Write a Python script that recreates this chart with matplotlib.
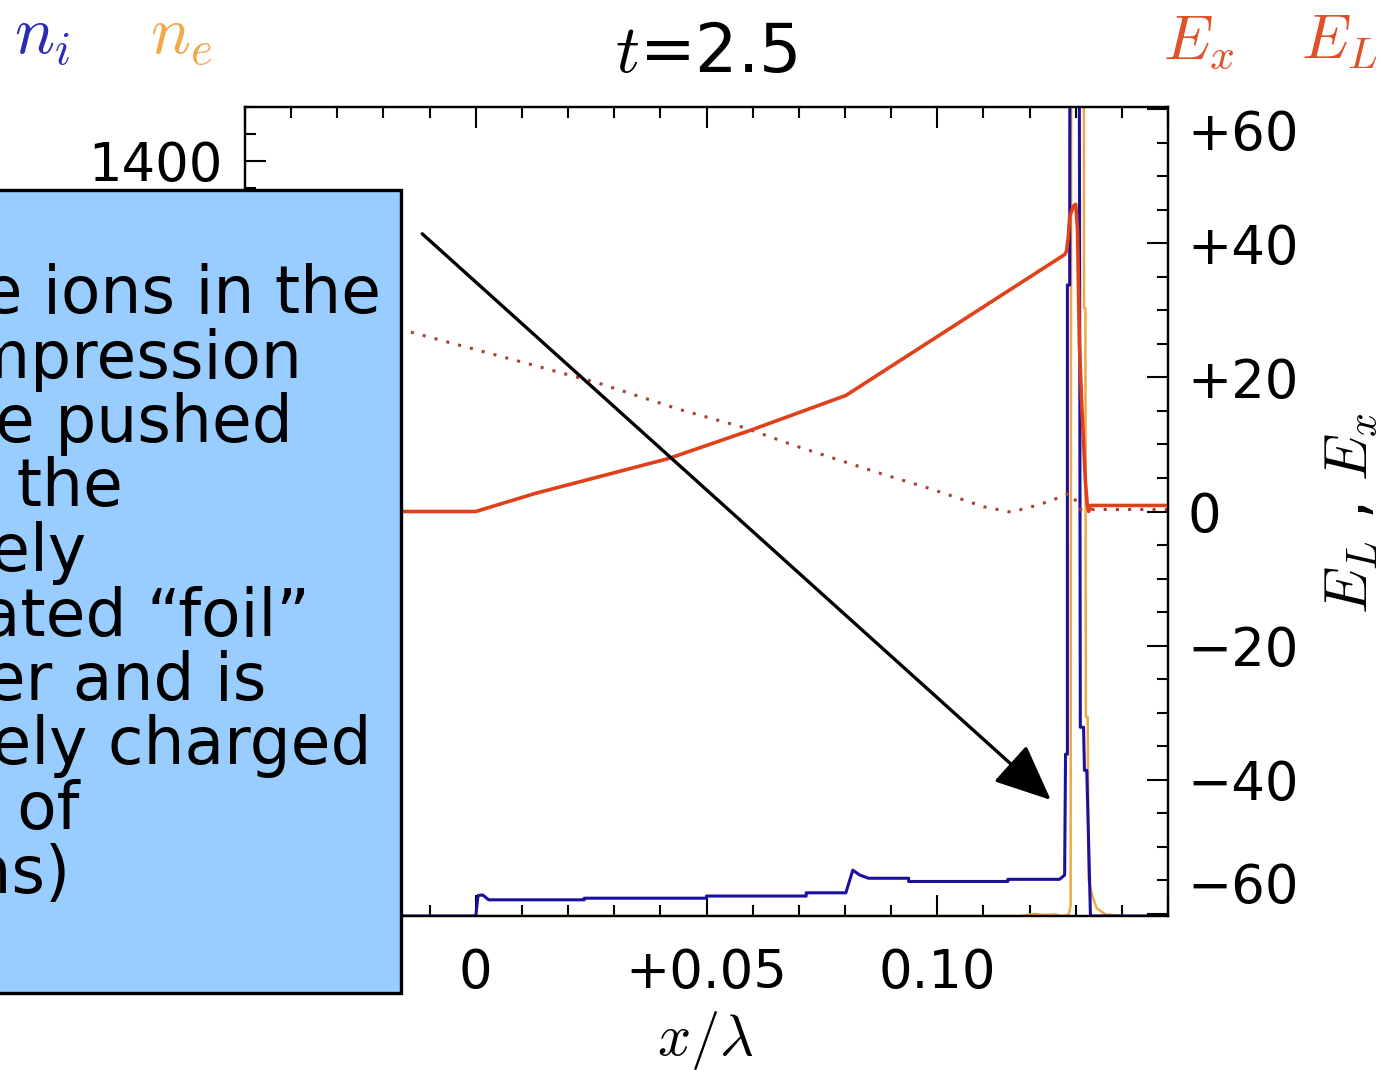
import matplotlib.pyplot as plt
from matplotlib.patches import Rectangle
from matplotlib.ticker import MultipleLocator

plt.rcParams["mathtext.fontset"] = "cm"
plt.rcParams["font.family"] = ["DejaVu Sans"]

# ion density n_i (left axis)
x_ni = [-0.05, 0.0, 0.0005, 0.0015, 0.0028, 0.0235, 0.0235, 0.0500, 0.0500, 0.0716, 0.0716,
        0.0802, 0.0817, 0.0832, 0.0851, 0.0938, 0.0938, 0.1153, 0.1153, 0.1265, 0.1276,
        0.1278, 0.1282, 0.1282, 0.1287, 0.1288, 0.1306, 0.1310, 0.1317, 0.1319, 0.1324,
        0.1332, 0.15]
n_i = [0, 0, 38, 39, 30, 30, 33, 33, 37, 37, 43,
       43, 85, 76, 70, 70, 64, 64, 68, 68, 76,
       300, 300, 1170, 1170, 2600, 2600, 350, 350, 270, 270,
       0, 0]

# electron density n_e (left axis)
x_ne = [-0.05, 0.118, 0.121, 0.123, 0.1255, 0.127, 0.1285, 0.1289, 0.1291, 0.1317, 0.1318,
        0.1321, 0.1322, 0.1326, 0.1328, 0.1335, 0.1345, 0.1364, 0.14, 0.15]
n_e = [0, 0, 4, 2, 3, 0, 3, 20, 2600, 2600, 1127,
       1127, 369, 369, 67, 40, 15, 3, 0, 0]

# longitudinal field E_x (right axis)
x_ex = [-0.05, 0.0, 0.0129, 0.0418, 0.0591, 0.0802, 0.1188, 0.1276, 0.1280, 0.1284, 0.1287,
        0.1295, 0.1300, 0.1304, 0.1308, 0.1313, 0.1317, 0.1321, 0.1325, 0.1328, 0.1332, 0.15]
e_x = [0, 0, 2.7, 7.9, 12.0, 17.3, 34.4, 38.3, 38.8, 40.9, 44.0,
       45.5, 45.8, 42.0, 25.0, 16.0, 10.5, 4.5, 1.0, 0.0, 0.9, 0.9]

# laser field E_L (right axis, dotted)
x_el = [-0.05, -0.0160, 0.0099, 0.0263, 0.0442, 0.0582, 0.0692, 0.0871, 0.0985, 0.1101,
        0.1160, 0.1220, 0.1265, 0.1285, 0.1295, 0.1306, 0.15]
e_l = [33.0, 27.1, 22.3, 19.2, 15.2, 12.5, 9.8, 5.8, 3.4, 0.7,
       -0.1, 1.0, 2.1, 2.7, 2.5, 0.3, 0.3]

x_ticks = [-0.05, 0.0, 0.05, 0.10, 0.15]
x_ticklabels = ["", "0", "+0.05", "0.10", ""]
n_ticks = [0, 200, 400, 600, 800, 1000, 1200, 1400]
e_ticks = [-60, -40, -20, 0, 20, 40, 60]
e_ticklabels = ["\u221260", "\u221240", "\u221220", "0", "+20", "+40", "+60"]

box_lines = ["The ions in the", "compression", "are pushed", "by the", "completely",
             "separated \u201cfoil\u201d", "layer and is", "positively charged",
             "(made of", "ions)"]
box_line_ends = [381, 302, 293, 123, 86, 310, 266, 371, 79, 71]

W, H = 1381, 1070
fig = plt.figure(figsize=(W / 100, H / 100), dpi=100)
ax = fig.add_axes([245 / W, 1 - 916 / H, (1168 - 245) / W, (916 - 107) / H])
ax2 = ax.twinx()

ax.plot(x_ne, n_e, color="#f0a848", lw=1.8, zorder=2)
ax.plot(x_ni, n_i, color="#1c109e", lw=2.2, zorder=3)
ax2.plot(x_el, e_l, color="#a84030", lw=2.2, ls=(0, (1, 3)))
ax2.plot(x_ex, e_x, color="#e0401a", lw=2.6)

ax.set_xlim(-0.05, 0.15)
ax.set_ylim(0, 1500)
ax2.set_ylim(-60.3, 60.3)

ax.set_xticks(x_ticks)
ax.set_xticklabels(x_ticklabels)
ax.xaxis.set_minor_locator(MultipleLocator(0.01))
ax.set_yticks(n_ticks)
ax.set_yticklabels([str(v) for v in n_ticks])
ax.yaxis.set_minor_locator(MultipleLocator(50))
ax2.set_yticks(e_ticks)
ax2.set_yticklabels(e_ticklabels)
ax2.yaxis.set_minor_locator(MultipleLocator(5))

ax.tick_params(axis="x", which="both", direction="in", top=True, width=1.5, labelsize=38, pad=22)
ax.tick_params(axis="y", which="both", direction="in", width=1.5, labelsize=38, pad=16)
ax2.tick_params(axis="y", which="both", direction="in", width=1.5, labelsize=38, pad=14)
for a in (ax, ax2):
    a.tick_params(which="major", length=15)
    a.tick_params(which="minor", length=8)
    for s in a.spines.values():
        s.set_linewidth(1.6)

lbls = ax2.get_yticklabels()
lbls[-1].set_va("top")
lbls[0].set_va("bottom")

# arrow pointing at the ion spike
ax2.annotate("", xy=(0.1246, -43.0), xytext=(-0.0116, 41.4),
             arrowprops=dict(arrowstyle="-|>,head_length=2.5,head_width=1.1",
                             mutation_scale=14, lw=2.4, color="black",
                             shrinkA=0, shrinkB=0), zorder=10)

# titles and labels
fig.text(706 / W, 1 - 53 / H, r"$t$=2.5", ha="center", va="center", fontsize=48)
fig.text(14 / W, 1 - 54 / H, r"$n_i$", color="#2a2ab8", fontsize=48, va="baseline")
fig.text(150 / W, 1 - 54 / H, r"$n_e$", color="#f0a848", fontsize=48, va="baseline")
fig.text(1163 / W, 1 - 58 / H, r"$E_x$", color="#e0502a", fontsize=45, va="baseline")
fig.text(1301 / W, 1 - 58 / H, r"$E_L$", color="#e0502a", fontsize=45, va="baseline")
fig.text(1350 / W, 1 - 513 / H, r"$E_L$ , $E_x$", rotation=90, ha="center", va="center",
         fontsize=43)
fig.text(705 / W, 1 - 1040 / H, r"$x/\lambda$", ha="center", va="center", fontsize=42)

# overlay text box (cut at the left edge)
fig.patches.append(Rectangle((-20 / W, 1 - 993 / H), 421 / W, (993 - 190) / H,
                             transform=fig.transFigure, facecolor="#99ccff",
                             edgecolor="black", lw=2.4, zorder=5))
for i, line in enumerate(box_lines):
    fig.text(box_line_ends[i] / W, 1 - (313 + 64.5 * i) / H, line, ha="right",
             va="baseline", fontsize=46.5, zorder=6)

fig.savefig("out.png", dpi=100)
